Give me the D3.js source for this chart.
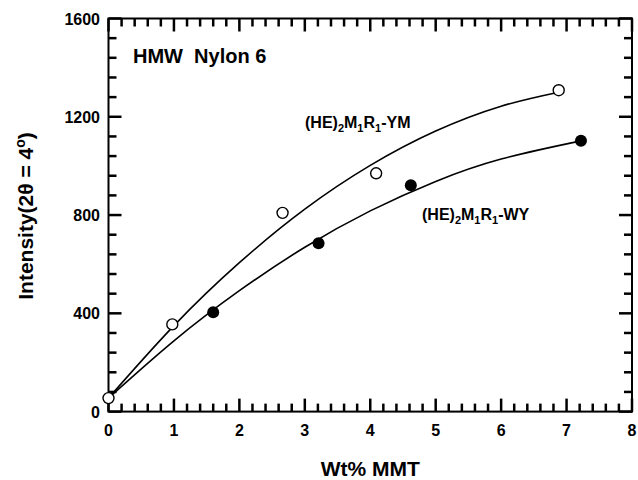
<!DOCTYPE html>
<html><head><meta charset="utf-8">
<script src="https://cdn.jsdelivr.net/npm/d3@7"></script>
<style>body{margin:0;background:#fff}svg{display:block;font-family:"Liberation Sans",Arial,sans-serif;font-weight:bold}</style>
</head><body><svg id="c" width="638" height="480"></svg>
<script>
// Data
const ymX = [0, 0.975, 2.66, 4.09, 6.88];
const ymY = [55, 355, 809, 970, 1308];
const wyX = [1.6, 3.21, 4.62, 7.22];
const wyY = [404, 685, 921, 1102];
// fitted curves as drawn in the picture (sampled)
const ymCurveX = [0, 1, 2, 3, 4, 5, 6, 6.88];
const ymCurveY = [55, 350, 606, 824, 1002, 1142, 1243, 1300];
const wyCurveX = [0, 1, 2, 3, 4, 5, 6, 7.22];
const wyCurveY = [55, 288, 492, 669, 817, 937, 1028, 1102];
const xTicks = [0, 1, 2, 3, 4, 5, 6, 7, 8];
const yTicks = [0, 400, 800, 1200, 1600];

const svg = d3.select("#c");
const L = 108.5, R = 632, T = 18.5, B = 411.6;
const x = d3.scaleLinear().domain([0, 8]).range([L, R]);
const y = d3.scaleLinear().domain([0, 1600]).range([B, T]);

const xAll = d3.range(0, 41).map(i => i * 0.2);
const yAll = d3.range(0, 21).map(i => i * 80);
const MAJ = 13, MIN = 8;
const len = i => (i % 5 === 0 ? MAJ : MIN);

// ticks (inward on all four sides)
const tk = svg.append("g").attr("stroke", "black").attr("stroke-width", 2.5);
tk.selectAll(".xb").data(xAll).join("line").attr("class", "xb")
  .attr("x1", d => x(d)).attr("x2", d => x(d)).attr("y1", B).attr("y2", (d, i) => B - len(i));
tk.selectAll(".xt").data(xAll).join("line").attr("class", "xt")
  .attr("x1", d => x(d)).attr("x2", d => x(d)).attr("y1", T).attr("y2", (d, i) => T + len(i));
tk.selectAll(".yl").data(yAll).join("line").attr("class", "yl")
  .attr("y1", d => y(d)).attr("y2", d => y(d)).attr("x1", L).attr("x2", (d, i) => L + len(i));
tk.selectAll(".yr").data(yAll).join("line").attr("class", "yr")
  .attr("y1", d => y(d)).attr("y2", d => y(d)).attr("x1", R).attr("x2", (d, i) => R - len(i));

// frame
svg.append("rect").attr("x", L).attr("y", T).attr("width", R - L).attr("height", B - T)
  .attr("fill", "none").attr("stroke", "#000").attr("stroke-width", 2);

// tick labels
svg.append("g").selectAll("text").data(xTicks).join("text")
  .attr("x", d => x(d)).attr("y", 436).attr("text-anchor", "middle").attr("font-size", 16).text(d => d);
svg.append("g").selectAll("text").data(yTicks).join("text")
  .attr("x", 100).attr("y", d => y(d) + 6).attr("text-anchor", "end").attr("font-size", 16).text(d => d);

// curves
const line = d3.line().x(d => x(d[0])).y(d => y(d[1])).curve(d3.curveNatural);
svg.append("path").attr("d", line(d3.zip(ymCurveX, ymCurveY))).attr("fill", "none").attr("stroke", "#000").attr("stroke-width", 1.6);
svg.append("path").attr("d", line(d3.zip(wyCurveX, wyCurveY))).attr("fill", "none").attr("stroke", "#000").attr("stroke-width", 1.6);

// points
svg.append("g").selectAll("circle").data(d3.zip(ymX, ymY)).join("circle")
  .attr("cx", d => x(d[0])).attr("cy", d => y(d[1])).attr("r", 5.5)
  .attr("fill", "#fff").attr("stroke", "#000").attr("stroke-width", 1.4);
svg.append("g").selectAll("circle").data(d3.zip(wyX, wyY)).join("circle")
  .attr("cx", d => x(d[0])).attr("cy", d => y(d[1])).attr("r", 6)
  .attr("fill", "#000");

// annotations
svg.append("text").attr("x", 133).attr("y", 63).attr("font-size", 20).attr("xml:space", "preserve").text("HMW  Nylon 6");
function chem(xp, yp, suffix) {
  const t = svg.append("text").attr("x", xp).attr("y", yp).attr("font-size", 16);
  t.append("tspan").text("(HE)");
  t.append("tspan").attr("font-size", 11).attr("dy", 4).text("2");
  t.append("tspan").attr("dy", -4).text("M");
  t.append("tspan").attr("font-size", 11).attr("dy", 4).text("1");
  t.append("tspan").attr("dy", -4).text("R");
  t.append("tspan").attr("font-size", 11).attr("dy", 4).text("1");
  t.append("tspan").attr("dy", -4).text(suffix);
}
chem(305, 128, "-YM");
chem(422, 220, "-WY");

// axis titles
svg.append("text").attr("x", (L + R) / 2).attr("y", 476).attr("text-anchor", "middle").attr("font-size", 21).text("Wt% MMT");
const yt = svg.append("text").attr("transform", "translate(33,216) rotate(-90)").attr("text-anchor", "middle").attr("font-size", 21);
yt.append("tspan").text("Intensity(2θ = 4");
yt.append("tspan").attr("font-size", 14).attr("dy", -8).text("o");
yt.append("tspan").attr("dy", 8).text(")");
</script></body></html>
